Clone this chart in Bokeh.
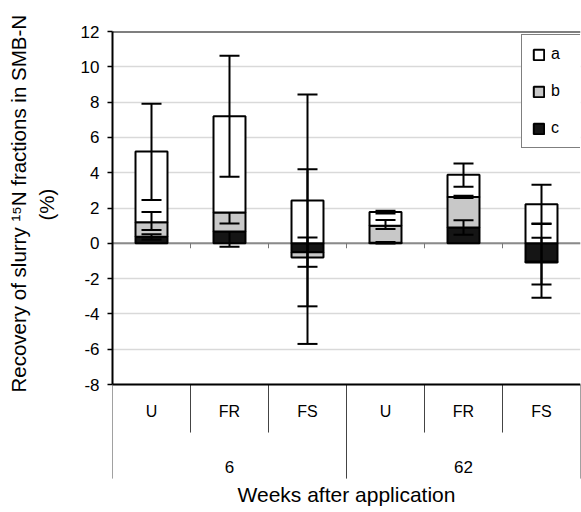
from bokeh.plotting import figure
from bokeh.models import (FactorRange, Range1d, FixedTicker, Span, Legend, LegendItem,
                          ColumnDataSource, CategoricalAxis, LinearAxis, Title)
from bokeh.embed import file_html
from bokeh.resources import INLINE

# ---- data ----
weeks = ["6", "6", "6", "62", "62", "62"]
treatments = ["U", "FR", "FS", "U", "FR", "FS"]
week_groups = ["6", "62"]
frac_a = [4.0, 5.45, 2.43, 0.77, 1.25, 2.22]
frac_b = [0.83, 1.08, -0.30, 0.97, 1.73, -0.03]
frac_c = [0.37, 0.67, -0.50, 0.03, 0.90, -1.05]
err_a_up = [2.70, 3.43, 6.00, 0.08, 0.64, 1.10]
err_a_dn = [2.75, 3.43, 6.00, 0.08, 0.68, 1.10]
err_b_up = [0.58, 0.00, 5.00, 0.32, 0.06, 2.17]
err_b_dn = [0.45, 0.63, 4.90, 0.19, 0.06, 2.00]
err_c_up = [0.15, 0.00, 0.83, 0.04, 0.41, 1.36]
err_c_dn = [0.15, 0.87, 0.83, 0.04, 0.41, 1.28]
y_ticks = [-8, -6, -4, -2, 0, 2, 4, 6, 8, 10, 12]
series_names = ["a", "b", "c"]
y_title_lines = ["Recovery of slurry \u00b9\u2075N fractions in SMB-N", "(%)"]

FONT = "Liberation Sans"
factors = list(zip(weeks, treatments))

p = figure(x_range=FactorRange(*factors, factor_padding=0, group_padding=0,
                               subgroup_padding=0, range_padding=0),
           y_range=Range1d(-15.25, 12),
           width=581, height=512, output_backend="svg", toolbar_location=None,
           x_axis_location=None, min_border_left=112, min_border_right=1,
           min_border_top=31, min_border_bottom=0)
p.extra_x_ranges = {"weeks": FactorRange(*week_groups, range_padding=0)}
p.outline_line_color = None
p.background_fill_color = "white"
p.border_fill_color = "white"

# grid
p.xgrid.visible = False
p.ygrid.ticker = FixedTicker(ticks=y_ticks)
p.ygrid.grid_line_color = "#d9d9d9"
p.ygrid.grid_line_width = 1.5

# y axis
ya = p.yaxis[0]
ya.ticker = FixedTicker(ticks=y_ticks)
ya.bounds = (y_ticks[0], y_ticks[-1])
ya.major_label_overrides = {t: str(t) for t in y_ticks}
ya.axis_line_color = "black"
ya.axis_line_width = 2
ya.major_tick_line_color = "black"
ya.major_tick_line_width = 1.5
ya.major_tick_out = 5
ya.major_tick_in = 0
ya.minor_tick_line_color = None
ya.major_label_standoff = 8
ya.major_label_text_font = FONT
ya.major_label_text_font_size = "17px"
ya.major_label_text_color = "black"

# blank spacer between tick labels and the axis title (one invisible tick)
spacer = LinearAxis(ticker=FixedTicker(ticks=[0]), axis_line_color=None,
                    major_tick_line_color=None, minor_tick_line_color=None,
                    major_tick_out=20, major_tick_in=0, minor_tick_out=0, minor_tick_in=0,
                    major_label_standoff=0, major_label_overrides={0: ""},
                    major_label_text_color=None)
p.add_layout(spacer, "left")

# y axis title: two lines as left-side titles, bottom-anchored
t2 = Title(text=y_title_lines[1], align="left", offset=292, standoff=0,
           text_font=FONT, text_font_size="20.5px", text_font_style="normal", text_color="black")
t1 = Title(text=y_title_lines[0], align="left", offset=120, standoff=6,
           text_font=FONT, text_font_size="20.5px", text_font_style="normal", text_color="black")
p.add_layout(t2, "left")
p.add_layout(t1, "left")

# x axis: treatments
xa = CategoricalAxis(fixed_location=y_ticks[0])
xa.axis_line_color = "black"
xa.axis_line_width = 2
xa.major_tick_line_color = None
xa.minor_tick_line_color = None
xa.separator_line_color = None
xa.major_label_standoff = 12
xa.major_label_text_font = FONT
xa.major_label_text_font_size = "16px"
xa.major_label_text_color = "black"
xa.group_text_color = None
xa.group_text_font_size = "1px"
p.add_layout(xa, "below")

# x axis: weeks
wa = CategoricalAxis(x_range_name="weeks", fixed_location=y_ticks[0])
wa.axis_line_color = None
wa.major_tick_line_color = None
wa.minor_tick_line_color = None
wa.major_label_standoff = 70
wa.major_label_text_font = FONT
wa.major_label_text_font_size = "17px"
wa.major_label_text_color = "black"
wa.axis_label = "Weeks after application"
wa.axis_label_text_font = FONT
wa.axis_label_text_font_size = "21px"
wa.axis_label_text_font_style = "normal"
wa.axis_label_text_color = "black"
wa.axis_label_standoff = 7
p.add_layout(wa, "below")

# top frame line and zero line
p.add_layout(Span(location=y_ticks[-1], dimension="width", line_color="black", line_width=2))
p.add_layout(Span(location=0, dimension="width", line_color="#8a8a8a", line_width=2, level="underlay"))

# separators between categories (below the value area)
inner_x, outer_x = [], []
for i, f in enumerate(factors):
    bx = (f[0], f[1], -0.5)
    if i == 0 or factors[i - 1][0] != f[0]:
        outer_x.append(bx)
    else:
        inner_x.append(bx)
outer_x.append((factors[-1][0], factors[-1][1], 0.5))
inner_src = ColumnDataSource(dict(x=inner_x, y0=[y_ticks[0]] * len(inner_x), y1=[-10.72] * len(inner_x)))
outer_src = ColumnDataSource(dict(x=outer_x, y0=[y_ticks[0]] * len(outer_x), y1=[-13.33] * len(outer_x)))
p.segment(x0="x", x1="x", y0="y0", y1="y1", source=inner_src, line_color="#444444", line_width=1)
p.segment(x0="x", x1="x", y0="y0", y1="y1", source=outer_src, line_color="#444444", line_width=1)
# small ticks on zero line at category boundaries
ztick_x = [(f[0], f[1], -0.5) for f in factors[1:]]
p.segment(x0="x", x1="x", y0="y0", y1="y1",
          source=ColumnDataSource(dict(x=ztick_x, y0=[0] * len(ztick_x), y1=[-0.28] * len(ztick_x))),
          line_color="#777777", line_width=1)

# stacking (c at bottom, then b, then a), positive and negative stacks separately
vals = {"a": frac_a, "b": frac_b, "c": frac_c}
errs = {"a": (err_a_up, err_a_dn), "b": (err_b_up, err_b_dn), "c": (err_c_up, err_c_dn)}
fills = {"a": "white", "b": "#c8c8c8", "c": "#151515"}
pos = [0.0] * len(factors)
neg = [0.0] * len(factors)
stack = {}
for s in ["c", "b", "a"]:
    bot, top, end = [], [], []
    for i, v in enumerate(vals[s]):
        if v >= 0:
            bot.append(pos[i]); top.append(pos[i] + v); pos[i] += v; end.append(pos[i])
        else:
            top.append(neg[i]); bot.append(neg[i] + v); neg[i] += v; end.append(neg[i])
    stack[s] = (bot, top, end)

renderers = {}
for s in ["c", "b", "a"]:
    bot, top, end = stack[s]
    src = ColumnDataSource(dict(x=factors, bottom=bot, top=top))
    renderers[s] = p.vbar(x="x", bottom="bottom", top="top", width=0.41, source=src,
                          fill_color=fills[s], line_color="black", line_width=2)

# error bars
for s in ["c", "b", "a"]:
    bot, top, end = stack[s]
    up, dn = errs[s]
    lo = [e - d for e, d in zip(end, dn)]
    hi = [e + u for e, u in zip(end, up)]
    p.segment(x0="x", x1="x", y0="lo", y1="hi",
              source=ColumnDataSource(dict(x=factors, lo=lo, hi=hi)),
              line_color="black", line_width=2)
    cx, cy = [], []
    for i in range(len(factors)):
        if up[i] > 0:
            cx.append(factors[i]); cy.append(hi[i])
        if dn[i] > 0:
            cx.append(factors[i]); cy.append(lo[i])
    p.scatter(x="x", y="y", source=ColumnDataSource(dict(x=cx, y=cy)), marker="dash",
              size=20, line_color="black", line_width=2)

legend = Legend(items=[LegendItem(label=n, renderers=[renderers[n]]) for n in series_names],
                location=(409, 364), orientation="vertical",
                border_line_color="black", border_line_width=1,
                background_fill_color="white", background_fill_alpha=1,
                padding=10, spacing=19, margin=0,
                glyph_width=13, glyph_height=13, label_height=13, label_width=40,
                label_standoff=6,
                label_text_font=FONT, label_text_font_size="16px", label_text_color="black")
p.add_layout(legend)

open("out.html", "w").write(file_html(p, INLINE))
